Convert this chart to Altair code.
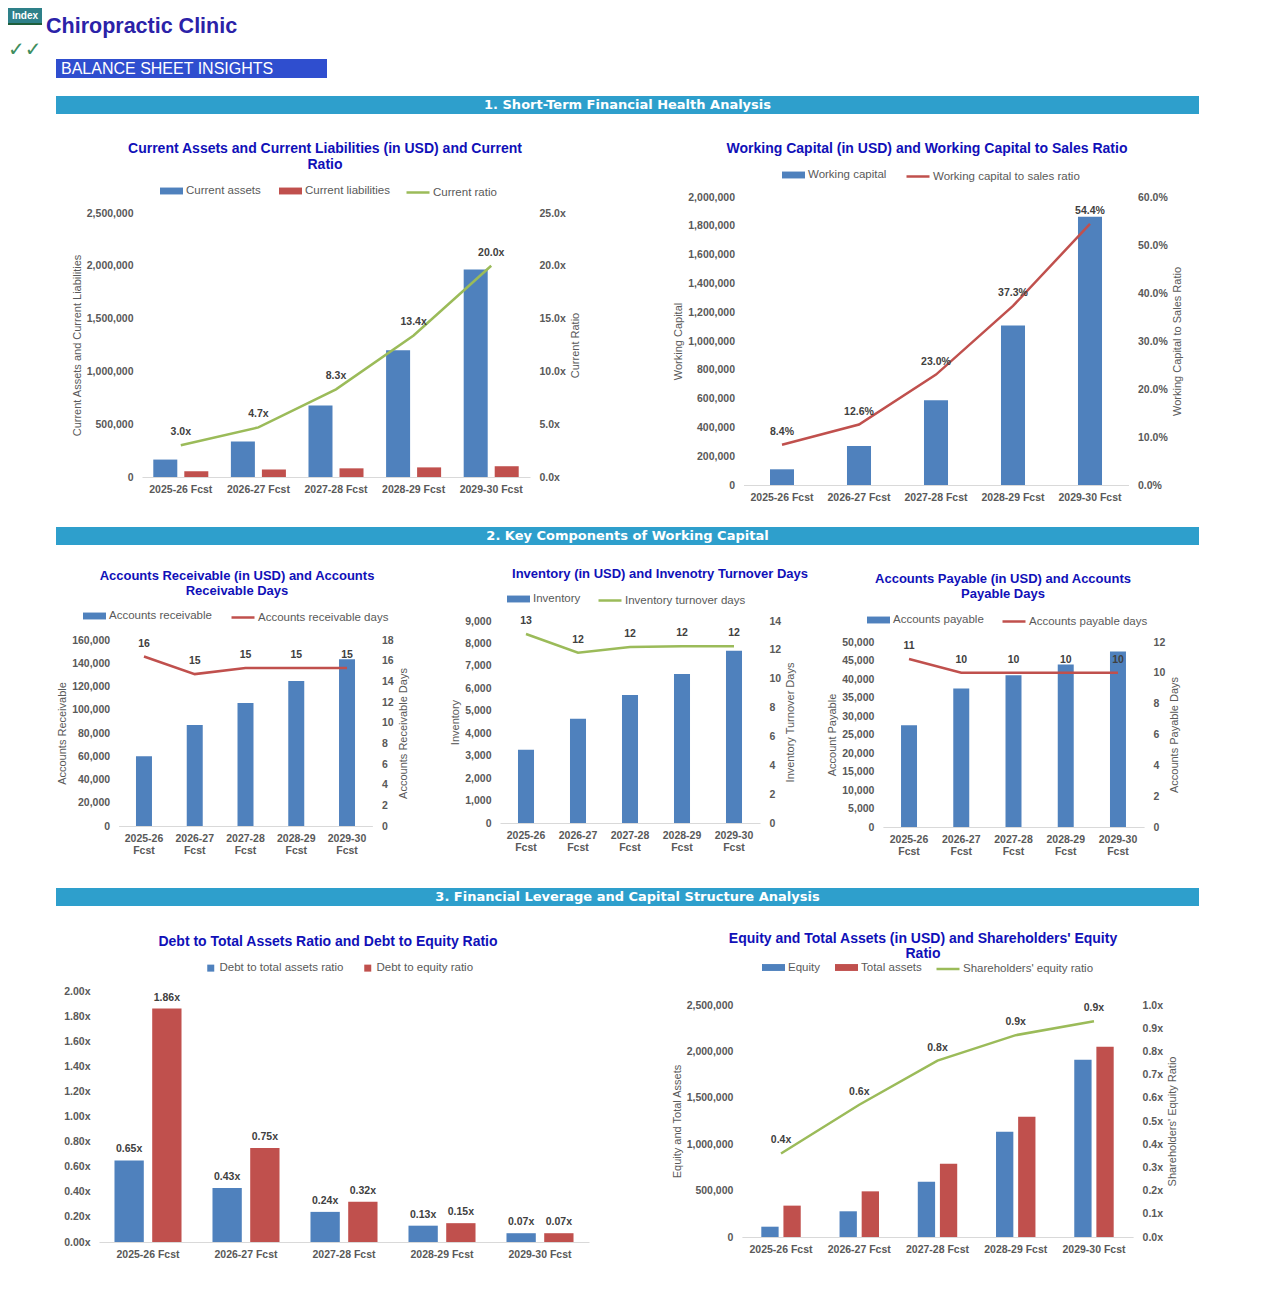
import altair as alt
import pandas as pd

# ---------------- data ----------------
years = ["2025-26 Fcst", "2026-27 Fcst", "2027-28 Fcst", "2028-29 Fcst", "2029-30 Fcst"]

current_assets = [165000, 335000, 677000, 1200000, 1965000]
current_liabilities = [54000, 70000, 82000, 91000, 102000]
current_ratio = [3.0, 4.7, 8.3, 13.4, 20.0]

working_capital = [109000, 271000, 589000, 1108000, 1863000]
wc_to_sales = [0.084, 0.126, 0.230, 0.373, 0.544]

accounts_receivable = [60000, 86800, 105900, 124800, 143400]
ar_days = [16.4, 14.7, 15.3, 15.3, 15.3]

inventory = [3260, 4640, 5700, 6640, 7680]
inventory_days = [13.1, 11.8, 12.2, 12.25, 12.25]

accounts_payable = [27500, 37400, 41000, 43900, 47400]
ap_days = [10.9, 10.0, 10.0, 10.0, 10.0]

debt_to_assets = [0.65, 0.43, 0.24, 0.13, 0.07]
debt_to_equity = [1.86, 0.75, 0.32, 0.15, 0.07]

equity = [111000, 277000, 596000, 1135000, 1911000]
total_assets = [338000, 492000, 790000, 1297000, 2051000]
equity_ratio = [0.36, 0.57, 0.76, 0.87, 0.93]

# tick values
t_ca = [0, 500000, 1000000, 1500000, 2000000, 2500000]
t_cr = [0, 5, 10, 15, 20, 25]
t_wc = [0, 200000, 400000, 600000, 800000, 1000000, 1200000, 1400000, 1600000, 1800000, 2000000]
t_wcr = [0, 0.1, 0.2, 0.3, 0.4, 0.5, 0.6]
t_ar = [0, 20000, 40000, 60000, 80000, 100000, 120000, 140000, 160000]
t_ard = [0, 2, 4, 6, 8, 10, 12, 14, 16, 18]
t_inv = [0, 1000, 2000, 3000, 4000, 5000, 6000, 7000, 8000, 9000]
t_invd = [0, 2, 4, 6, 8, 10, 12, 14]
t_ap = [0, 5000, 10000, 15000, 20000, 25000, 30000, 35000, 40000, 45000, 50000]
t_apd = [0, 2, 4, 6, 8, 10, 12]
t_debt = [0, 0.2, 0.4, 0.6, 0.8, 1.0, 1.2, 1.4, 1.6, 1.8, 2.0]
t_eq = [0, 500000, 1000000, 1500000, 2000000, 2500000]
t_eqr = [0, 0.1, 0.2, 0.3, 0.4, 0.5, 0.6, 0.7, 0.8, 0.9, 1.0]

header_texts = ["Index", "Chiropractic Clinic", "\u2713\u2713", "BALANCE SHEET INSIGHTS"]
section_titles = [
    "1. Short-Term Financial Health Analysis",
    "2. Key Components of Working Capital",
    "3. Financial Leverage and Capital Structure Analysis",
]
chart_titles = [
    "Current Assets and Current Liabilities (in USD) and Current\nRatio",
    "Working Capital (in USD) and Working Capital to Sales Ratio",
    "Accounts Receivable (in USD) and Accounts\nReceivable Days",
    "Inventory (in USD) and Invenotry Turnover Days",
    "Accounts Payable (in USD) and Accounts\nPayable Days",
    "Debt to Total Assets Ratio and Debt to Equity Ratio",
    "Equity and Total Assets (in USD) and Shareholders' Equity\nRatio",
]

# ---------------- styling ----------------
W, H = 1191, 1258
FONT = "Liberation Sans"
BLUE, RED, GREEN = "#4F81BD", "#C0504D", "#9BBB59"
GRAY = "#595959"
DARK = "#404040"
TBLUE = "#1010B8"
BAR_SYM = "M-1,-0.3H1V0.3H-1Z"
TSIZE = 14
TSIZE2 = 13

FMT_COMMA = "format(datum.value, ',.0f')"
FMT_X1 = "format(datum.value, '.1f') + 'x'"
FMT_X2 = "format(datum.value, '.2f') + 'x'"
FMT_PCT = "format(datum.value, '.1%')"
FMT_INT = "format(datum.value, '.0f')"


def series_frame(names, values):
    rows = []
    for n, vals in zip(names, values):
        for yr, v in zip(years, vals):
            rows.append({"year": yr, "series": n, "value": v})
    return pd.DataFrame(rows)


def x_channel(x0, x1, pad, y_base, multiline=False):
    ax = dict(orient="bottom", offset=y_base - H, title=None, labelAngle=0, ticks=False,
              domainColor="#D9D9D9", domainWidth=1, grid=False, labelPadding=7,
              labelFont=FONT, labelFontSize=10.5, labelFontWeight="bold", labelColor=GRAY,
              labelOverlap=False)
    if multiline:
        ax["labelExpr"] = "split(datum.label, ' ')"
        ax["labelLineHeight"] = 12
    return alt.X("year:N", sort=years,
                 scale=alt.Scale(domain=years, range=[x0, x1], paddingInner=pad, paddingOuter=pad / 2),
                 axis=alt.Axis(**ax))


def y_channel(side, pos, y0, y1, dom, ticks, expr, title):
    ax = dict(orient=side, offset=(-pos if side == "left" else pos - W), values=ticks,
              labelExpr=expr, ticks=False, domain=False, grid=False, labelPadding=9,
              labelFont=FONT, labelFontSize=10.5, labelFontWeight="bold", labelColor=GRAY,
              titleFont=FONT, titleFontSize=11, titleFontWeight="normal", titleColor=GRAY,
              titlePadding=4)
    ax["title"] = title
    if title is not None and side == "right":
        ax["titleAngle"] = 270
        ax["titleBaseline"] = "top"
    return alt.Y("value:Q", scale=alt.Scale(domain=dom, range=[y0, y1], nice=False, zero=True),
                 axis=alt.Axis(**ax))


def bar_legend(x, y, col_pad=18, square=False):
    d = dict(orient="none", legendX=x, legendY=y, direction="horizontal", title=None,
             labelFont=FONT, labelFontSize=11.5, labelColor=GRAY, labelOffset=3,
             columnPadding=col_pad, padding=0, symbolStrokeWidth=0)
    if square:
        d["symbolType"] = "square"
        d["symbolSize"] = 49
    else:
        d["symbolType"] = BAR_SYM
        d["symbolSize"] = 529
    return alt.Legend(**d)


def line_legend(x, y):
    return alt.Legend(orient="none", legendX=x, legendY=y, direction="horizontal", title=None,
                      labelFont=FONT, labelFontSize=11.5, labelColor=GRAY, labelOffset=2,
                      padding=0, symbolType="stroke", symbolSize=529, symbolStrokeWidth=2.5)


def combo(bar_names, bar_vals, bar_cols, line_name, line_vals, line_col, line_expr,
          xr, pad, yr, left, right, leg_b, leg_l, multiline=False, inner_pad=None, col_pad=18):
    X = x_channel(xr[0], xr[1], pad, yr[0], multiline)
    bdf = series_frame(bar_names, bar_vals)
    enc = dict(
        x=X,
        y=y_channel("left", xr[0], yr[0], yr[1], *left),
        color=alt.Color("series:N", sort=bar_names,
                        scale=alt.Scale(domain=bar_names, range=bar_cols),
                        legend=bar_legend(leg_b[0], leg_b[1], col_pad)),
    )
    if inner_pad is not None:
        enc["xOffset"] = alt.XOffset("series:N", sort=bar_names,
                                     scale=alt.Scale(domain=bar_names, paddingInner=inner_pad,
                                                     paddingOuter=0))
    bars = alt.Chart(bdf).mark_bar().encode(**enc)
    ldf = series_frame([line_name], [line_vals])
    YR = y_channel("right", xr[1], yr[0], yr[1], *right)
    line = alt.Chart(ldf).mark_line(strokeWidth=2.5).encode(
        x=X, y=YR,
        stroke=alt.Stroke("series:N", scale=alt.Scale(domain=[line_name], range=[line_col]),
                          legend=line_legend(*leg_l)))
    labels = alt.Chart(ldf).transform_calculate(lab=line_expr).mark_text(
        dy=-13, font=FONT, fontSize=10.5, fontWeight="bold", color=DARK
    ).encode(x=X, y=YR, text="lab:N")
    return alt.layer(bars, alt.layer(line, labels)).resolve_scale(y="independent")


def rect(x0, x1, y0, y1, color):
    return alt.Chart(pd.DataFrame({"k": [0]})).mark_rect(color=color).encode(
        x=alt.value(x0), x2=alt.value(x1), y=alt.value(y0), y2=alt.value(y1))


def label(text, x, y, size, color, weight="normal", align="left", baseline="middle",
          font=FONT, **kw):
    return alt.Chart(pd.DataFrame({"t": [text]})).mark_text(
        align=align, baseline=baseline, font=font, fontSize=size, fontWeight=weight,
        color=color, **kw
    ).encode(x=alt.value(x), y=alt.value(y), text="t:N")


# ---------------- decorations ----------------
decor = [
    rect(0, 34, 0, 15, "#2E8089"),
    rect(0, 34, 15, 17, "#1E5E3A"),
    label(header_texts[0], 17, 7.5, 10, "white", "bold", "center"),
    label(header_texts[1], 38, 25, 21.5, "#2B22A8", "bold", baseline="alphabetic"),
    label(header_texts[2], 0, 48, 20, "#3E8E5E", font="DejaVu Sans", baseline="alphabetic"),
    rect(48, 319, 51, 70, "#2F4ECF"),
    label(header_texts[3], 53, 61, 16, "white"),
    rect(48, 1191, 88, 106, "#2E9FCC"),
    label(section_titles[0], 619.5, 96.5, 13, "white", "bold", "center", font="DejaVu Sans"),
    rect(48, 1191, 519, 537, "#2E9FCC"),
    label(section_titles[1], 619.5, 527.5, 13, "white", "bold", "center", font="DejaVu Sans"),
    rect(48, 1191, 880, 898, "#2E9FCC"),
    label(section_titles[2], 619.5, 888.5, 13, "white", "bold", "center", font="DejaVu Sans"),
    label(chart_titles[0], 317, 134, TSIZE, TBLUE, "bold", "center", "top", lineBreak="\n", lineHeight=16),
    label(chart_titles[1], 919, 141, TSIZE, TBLUE, "bold", "center"),
    label(chart_titles[2], 229, 562, TSIZE2, TBLUE, "bold", "center", "top", lineBreak="\n", lineHeight=15),
    label(chart_titles[3], 652, 566, TSIZE2, TBLUE, "bold", "center"),
    label(chart_titles[4], 995, 565, TSIZE2, TBLUE, "bold", "center", "top", lineBreak="\n", lineHeight=15),
    label(chart_titles[5], 320, 934, TSIZE, TBLUE, "bold", "center"),
    label(chart_titles[6], 915, 924, TSIZE, TBLUE, "bold", "center", "top", lineBreak="\n", lineHeight=15),
]

# ---------------- charts ----------------
c1 = combo(["Current assets", "Current liabilities"], [current_assets, current_liabilities], [BLUE, RED],
           "Current ratio", current_ratio, GREEN, "format(datum.value, '.1f') + 'x'",
           (134, 522), 0.291, (469, 205),
           ([0, 2500000], t_ca, FMT_COMMA, "Current Assets and Current Liabilities"),
           ([0, 25], t_cr, FMT_X1, "Current Ratio"),
           (152, 171.5), (397, 171.5), inner_pad=0.226)

c2 = combo(["Working capital"], [working_capital], [BLUE],
           "Working capital to sales ratio", wc_to_sales, RED, "format(datum.value, '.1%')",
           (735.5, 1120.5), 0.688, (477, 189),
           ([0, 2000000], t_wc, FMT_COMMA, "Working Capital"),
           ([0, 0.6], t_wcr, FMT_PCT, "Working Capital to Sales Ratio"),
           (774, 155.5), (897, 155.5))

ar = combo(["Accounts receivable"], [accounts_receivable], [BLUE],
           "Accounts receivable days", ar_days, RED, "format(datum.value, '.0f')",
           (110.6, 364.4), 0.685, (818, 632),
           ([0, 160000], t_ar, FMT_COMMA, "Accounts Receivable"),
           ([0, 18], t_ard, FMT_INT, "Accounts Receivable Days"),
           (75, 596.5), (222, 596.5), multiline=True)

inv = combo(["Inventory"], [inventory], [BLUE],
            "Inventory turnover days", inventory_days, GREEN, "format(datum.value, '.0f')",
            (492, 752), 0.692, (815, 613),
            ([0, 9000], t_inv, FMT_COMMA, "Inventory"),
            ([0, 14], t_invd, FMT_INT, "Inventory Turnover Days"),
            (499, 579.5), (589, 579.5), multiline=True)

ap = combo(["Accounts payable"], [accounts_payable], [BLUE],
           "Accounts payable days", ap_days, RED, "format(datum.value, '.0f')",
           (874.9, 1136.1), 0.694, (819, 634),
           ([0, 50000], t_ap, FMT_COMMA, "Account Payable"),
           ([0, 12], t_apd, FMT_INT, "Accounts Payable Days"),
           (859, 600.5), (993, 600.5), multiline=True)

debt_names = ["Debt to total assets ratio", "Debt to equity ratio"]
ddf = series_frame(debt_names, [debt_to_assets, debt_to_equity])
XD = x_channel(91, 581, 0.316, 1234)
YD = y_channel("left", 91, 1234, 983, [0, 2], t_debt, FMT_X2, None)
XOD = alt.XOffset("series:N", sort=debt_names,
                  scale=alt.Scale(domain=debt_names, paddingInner=0.223, paddingOuter=0))
debt_bars = alt.Chart(ddf).mark_bar().encode(
    x=XD, y=YD, xOffset=XOD,
    color=alt.Color("series:N", sort=debt_names, scale=alt.Scale(domain=debt_names, range=[BLUE, RED]),
                    legend=bar_legend(197, 954, 18, square=True)))
debt_labels = alt.Chart(ddf).transform_calculate(lab="format(datum.value, '.2f') + 'x'").mark_text(
    dy=-11, font=FONT, fontSize=10.5, fontWeight="bold", color=DARK
).encode(x=XD, y=YD, xOffset=XOD, text="lab:N")
debt = alt.layer(debt_bars, debt_labels)

eq = combo(["Equity", "Total assets"], [equity, total_assets], [BLUE, RED],
           "Shareholders' equity ratio", equity_ratio, GREEN, "format(datum.value, '.1f') + 'x'",
           (733.9, 1125.1), 0.496, (1229, 997),
           ([0, 2500000], t_eq, FMT_COMMA, "Equity and Total Assets"),
           ([0, 1], t_eqr, FMT_X1, "Shareholders' Equity Ratio"),
           (754, 948), (927, 948), inner_pad=0.217, col_pad=15)

chart = alt.layer(*decor, c1, c2, ar, inv, ap, debt, eq).resolve_scale(
    x="independent", y="independent", color="independent", stroke="independent",
    xOffset="independent"
).properties(width=W, height=H, padding=0, background="white").configure_view(stroke=None)

chart.save("out.html", embed_options={"renderer": "svg", "actions": False})
